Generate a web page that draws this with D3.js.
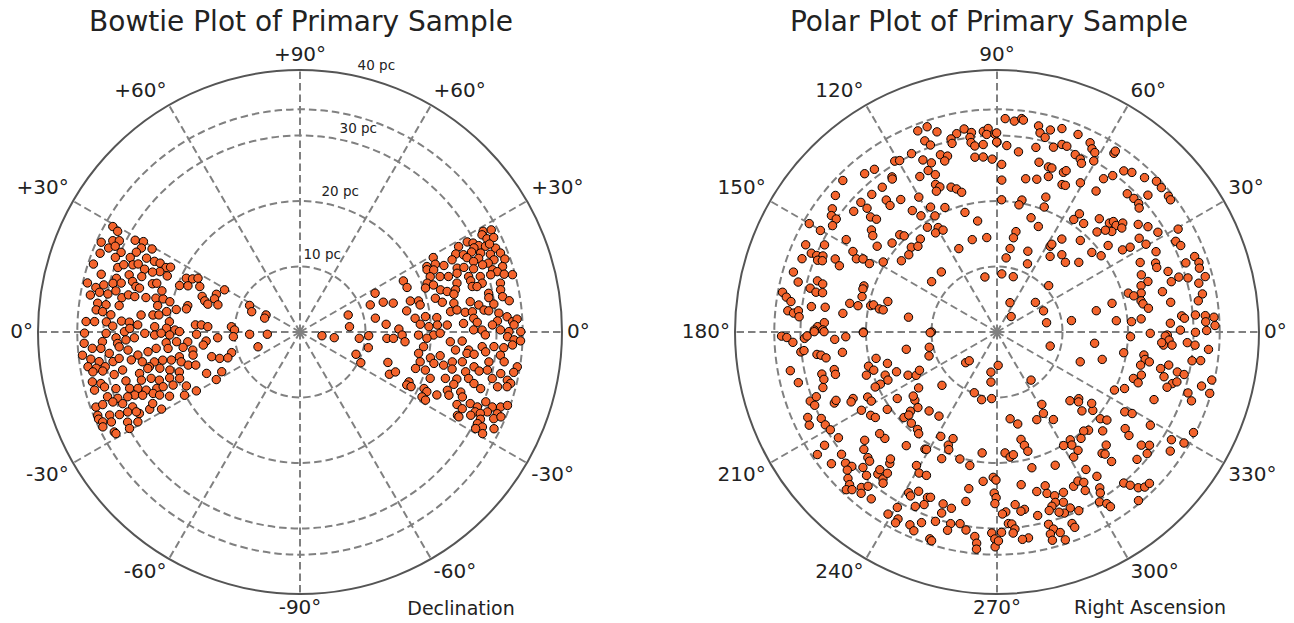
<!DOCTYPE html>
<meta charset="utf-8">
<style>

body { margin: 0; background: #fff; }

text {
  font-family: "DejaVu Sans", sans-serif;
  fill: #222;
}

.grid {
  fill: none;
  stroke: #808080;
  stroke-width: 2px;
  stroke-dasharray: 7.5, 4;
}

.edge {
  fill: none;
  stroke: #555;
  stroke-width: 2px;
}

.star {
  fill: #f4642c;
  stroke: #000;
  stroke-width: 1px;
}

</style>
<script src="https://cdn.jsdelivr.net/npm/d3@7"></script>

<body>
<script>

var width = 1294,
    height = 623;

// bowtie: [declination (deg), distance (pc)], stars on the left half of the sky
var bowtieWest = [[29.4,32.8],[28.9,31.8],[24.3,33.3],[26.0,31.8],[26.8,30.9],[29.1,28.8],[30,27.6],[23.7,31.9],[24.9,31.1],[27.9,27.4],[29.3,25.9],[26.0,27.8],[21.5,32.8],[24.0,29.9],[22.0,30.4],[25.7,26.0],[23.7,28.3],[18.2,33.2],[19.5,29.5],[20.9,28.8],[21.9,27.5],[22.8,26.8],[25.9,24.7],[26.2,23.8],[25.7,22.7],[26.6,22.1],[22.0,25.6],[23.3,23.3],[16.2,31.6],[16.3,29.2],[18.5,27.5],[22.1,24.3],[19.3,25.6],[22.9,22.0],[25.3,19.2],[26.3,18.3],[27.8,17.6],[13.0,33.3],[12.3,31.9],[13.5,30.8],[14.6,29.5],[15.3,28.3],[16.8,26.7],[15.5,26.0],[15.3,25.4],[18.1,23.7],[18.8,23.1],[21.1,19.7],[22.4,18.5],[24.4,16.8],[29.2,13.2],[10.0,32.5],[11.2,31.2],[11.2,29.9],[12.6,28.8],[10.9,27.7],[12.2,26.8],[12.1,25.8],[12.6,24.1],[13.2,22.6],[13.6,21.5],[16.6,22.0],[20.0,15.9],[24.3,14.0],[18.1,15.3],[21.2,14.0],[8.1,31.2],[8.0,29.9],[8.3,27.9],[10.5,22.1],[13.1,20.4],[13.2,17.6],[18.3,13.2],[16.8,14.7],[27.8,8.7],[22.8,8.0],[6.2,31.3],[5.9,30.3],[5.2,29.0],[6.1,24.4],[6.6,22.6],[6.9,21.7],[8.7,20.6],[10.3,19.2],[11.5,17.7],[26.6,5.8],[21.4,5.8],[2.8,32.7],[2.9,31.4],[3.0,29.6],[1.8,28.6],[3.5,27.3],[3.3,26.1],[2.5,24.8],[0.1,26.8],[1.2,26.0],[2.1,22.2],[4.5,20.0],[1.6,20.4],[0.9,19.1],[3.9,16.0],[4.1,15.1],[3.3,14.1],[4.4,10.5],[1.8,10.0],[-0.3,32.9],[-0.4,29.6],[-1.8,28.1],[-2.6,26.6],[-2.0,25.3],[-0.5,23.7],[-1.2,22.2],[-0.5,21.2],[-1.3,19.9],[0.2,18.4],[-1.3,15.8],[-4.0,12.6],[-4.0,10.2],[-2.6,7.7],[-4.0,5.0],[-4.6,20.5],[-4.5,18.9],[-5.0,17.2],[-5.5,14.4],[-3.0,33.0],[-2.8,30.2],[-3.6,27.9],[-6.1,33.4],[-4.5,31.8],[-4.7,30.5],[-6.4,29.3],[-4.7,27.7],[-6.0,26.4],[-8.1,25.0],[-7.4,23.4],[-6.5,22.1],[-7.1,20.3],[-7.5,18.0],[-9.6,16.6],[-7.7,14.9],[-19.4,6.8],[-16.8,10.9],[-11.6,18.8],[-12.2,16.7],[-15.6,14.0],[-18.2,12.9],[-19.7,11.7],[-7.4,32.2],[-8.4,31.0],[-9.0,28.9],[-8.3,27.9],[-9.4,26.1],[-10.7,24.5],[-11.6,22.7],[-11.6,21.4],[-12.3,20.1],[-14.1,18.7],[-9.3,32.8],[-10.1,31.6],[-10.1,30.2],[-13.0,23.6],[-14.5,22.1],[-16.5,17.8],[-17.6,16.7],[-10.9,32.2],[-11.2,30.7],[-12.9,29.1],[-12.1,27.7],[-14.5,25.3],[-13.5,23.9],[-16.3,20.7],[-18.3,19.4],[-23.9,15.6],[-26.9,13.4],[-29.6,14.7],[-16.9,25.3],[-17.3,23.8],[-18.9,22.7],[-19.4,21.1],[-21.1,19.7],[-15.7,27.6],[-13.5,32.6],[-14.5,31.4],[-15.8,32.6],[-15.7,31.0],[-17.1,29.4],[-18.3,27.4],[-19.2,26.2],[-20.7,25.1],[-21.5,23.5],[-21.8,22.5],[-22.7,21.0],[-25.4,19.2],[-20.9,27.0],[-22.7,24.3],[-24.2,23.5],[-26.2,22.2],[-28.7,20.1],[-29.6,18.2],[-18.6,31.0],[-20.0,29.6],[-20.6,28.1],[-21.9,25.9],[-20.2,33.2],[-20.2,32.1],[-20.5,30.5],[-22.0,29.2],[-24.1,28.0],[-26.9,27.5],[-27.2,25.8],[-25.9,25.0],[-29.1,24.2],[-22.4,33.4],[-23.6,31.7],[-24.6,30.3],[-24.9,29.0],[-26.0,27.8],[-23.4,33.5],[-24.5,33.1],[-25.5,31.9],[-27.6,29.7],[-29.0,28.3],[-25.7,33.4],[-28.3,32.2],[-28.9,32.1],[-29.5,29.9]];

// bowtie: stars on the right half of the sky
var bowtieEast = [[28.8,31.9],[28.1,33.1],[28.1,31.5],[26.5,31.9],[26.0,32.9],[28.3,29.0],[27.2,29.7],[25.8,30.3],[28.3,27.5],[24.8,31.2],[23.2,32.5],[24.9,31.9],[25.8,29.5],[26.6,26.6],[25.3,27.6],[25.0,28.9],[23.6,30.1],[22.2,31.4],[21.5,32.9],[29.2,23.3],[25.4,25.7],[24.0,27.9],[22.4,29.5],[20.4,31.6],[19.6,33.2],[22.1,28.6],[20.1,30.6],[27.3,21.8],[26.6,23.1],[24.8,24.2],[22.1,25.9],[21.5,26.9],[20.2,29.7],[17.9,32.5],[26.1,21.6],[24.9,22.5],[20.0,28.2],[20.5,25.6],[17.9,30.9],[17.0,31.5],[15.1,33.6],[23.0,21.6],[21.6,23.0],[20.5,24.2],[18.2,27.1],[17.1,28.8],[15.8,32.4],[16.7,30.4],[26.3,17.6],[21.0,20.8],[19.4,21.6],[17.3,25.1],[16.7,27.2],[15.0,28.8],[13.7,31.5],[22.6,17.7],[19.3,20.3],[16.7,22.4],[15.4,23.3],[15.2,24.6],[14.8,27.2],[14.4,27.9],[11.6,29.4],[11.9,31.3],[27.3,12.9],[21.1,11.5],[19.7,13.5],[17.2,14.9],[15.7,17.5],[14.7,18.7],[14.0,21.3],[13.8,24.2],[10.3,29.3],[9.9,31.4],[8.5,32.3],[12.7,18.8],[11.8,22.2],[10.6,23.9],[10.1,26.4],[8.2,29.9],[8.6,27.6],[11.2,16.6],[7.7,23.2],[8.0,24.2],[6.8,25.4],[6.7,26.5],[6.8,28.3],[6.4,29.0],[5.4,30.5],[4.2,31.7],[2.8,32.5],[3.4,33.2],[6.8,17.7],[7.0,19.3],[6.0,21.0],[4.5,26.6],[3.2,30.2],[19.4,7.8],[10.4,11.7],[6.1,7.6],[5.1,13.2],[1.7,15.1],[3.7,18.4],[2.4,19.7],[2.9,21.0],[2.7,22.5],[3.0,25.0],[3.1,27.1],[2.1,29.4],[0.6,27.8],[0.6,30.6],[0.1,31.9],[1.9,32.7],[-1.7,15.6],[-1.5,18.1],[-1.3,20.4],[-0.5,21.4],[0.7,26.5],[-0.9,28.3],[0.1,33.7],[-9.7,3.4],[-9.4,5.3],[-6.1,9.1],[-3.1,10.5],[-4.2,13.3],[-3.9,14.3],[-5.3,16.1],[-2.8,19.4],[-3.7,23.0],[-3.2,24.8],[-1.3,31.7],[-2.1,32.7],[-2.3,33.7],[-3.5,32.5],[-6.8,19.0],[-6.6,23.9],[-6.1,25.9],[-4.6,27.9],[-4.3,29.7],[-4.4,31.2],[-12.9,10.7],[-21.7,9.2],[-26.8,10.4],[-19.1,14.2],[-10.2,18.4],[-11.2,20.3],[-9.6,21.7],[-11.1,23.7],[-7.3,25.7],[-7.3,26.8],[-6.1,28.5],[-6.6,30.8],[-9.1,33.6],[-13.9,18.9],[-13.2,21.0],[-13.0,22.5],[-10.4,25.2],[-11.3,27.1],[-9.0,29.2],[-8.3,31.5],[-25.3,15.1],[-22.7,15.8],[-17.5,18.5],[-16.9,20.0],[-13.7,23.9],[-13.5,26.0],[-12.3,28.0],[-11.5,29.2],[-11.7,31.3],[-10.7,33.2],[-13.1,32.5],[-24.6,18.3],[-19.6,21.1],[-17.7,23.3],[-16.7,25.0],[-15.4,26.7],[-13.6,30.2],[-26.4,18.2],[-26.2,18.9],[-24.5,20.8],[-25.2,21.4],[-24.7,23.0],[-21.6,24.2],[-23.0,24.7],[-20.5,26.2],[-17.4,28.9],[-15.5,31.3],[-13.7,33.1],[-14.8,32.7],[-18.8,24.8],[-16.5,27.7],[-28.0,21.1],[-21.8,26.7],[-28.5,21.8],[-24.8,26.4],[-22.8,28.2],[-22.9,29.4],[-20.6,30.3],[-21.3,31.5],[-20.5,32.7],[-19.5,33.6],[-25.3,27.4],[-24.5,29.4],[-23.1,31.1],[-22.5,32.6],[-27.9,27.2],[-24.3,30.2],[-28.1,27.5],[-26.0,29.0],[-25.8,30.6],[-24.1,32.4],[-22.9,33.3],[-27.3,30.5],[-27.5,31.4],[-26.5,33.1],[-28.8,30.6],[-29.1,31.9]];

// polar: [right ascension (deg), distance (pc)]
var polarStars = [[111.5,33.0],[108.8,33.1],[106.7,31.9],[101.5,30.9],[99.2,31.4],[97.3,30.7],[93.9,30.7],[92.5,31.1],[90.6,30.2],[93,30.2],[110.7,31.2],[109.6,30.3],[103.4,30.3],[103.4,29.6],[97.9,30.0],[97.8,29.2],[96.8,28.6],[94.2,28.7],[90,29.0],[115.6,30.2],[107.7,28.4],[105.7,27.9],[107,27.3],[113.3,28.6],[111.2,27.7],[97.2,26.9],[94.5,26.8],[91.6,26.4],[120.9,30.4],[119.6,30.1],[129.9,31.5],[127,31.1],[124.1,28.6],[124.4,28.3],[116.4,26.5],[113.1,26.8],[111.4,25.8],[135.5,33.0],[128.4,28.2],[112.6,24.4],[111.5,23.8],[107.6,23.2],[105.8,22.7],[104.2,22.0],[113.3,23.4],[139.8,32.3],[132.3,28.4],[130,26.3],[130.2,25.3],[126,25.0],[120.1,23.8],[136.4,28.7],[136.4,27.4],[124.9,22.6],[123.2,21.2],[118,21.6],[112.7,20.6],[105,18.9],[143.2,31.4],[144.9,30.9],[144.9,30.0],[139.9,28.6],[137.7,26.1],[136.9,25.2],[118.1,20.1],[123.6,19.2],[119.4,18.3],[121.8,17.8],[117.9,17.6],[99.9,17.2],[150,33.1],[150.1,31.1],[147.1,29.9],[140.9,24.7],[142.2,24.0],[135,21.0],[134,20.4],[129.5,18.4],[135.3,18.4],[132.7,17.8],[114.6,14.0],[105,14.6],[96.2,14.5],[155.5,32.1],[153.2,29.5],[148.5,27.0],[144.4,22.5],[139.7,21.0],[157,30.8],[157,29.9],[156.4,29.0],[158.2,29.5],[157.8,28.8],[159.4,31.8],[155.7,27.1],[157.2,26.1],[150.8,25.2],[152.5,24.2],[151.4,23.3],[151.8,22.1],[148.4,20.4],[143.3,18.2],[138.8,17.9],[163.6,32.4],[165.9,31.3],[164.1,28.5],[164.6,27.6],[166.8,29.3],[167.6,28.3],[167.3,27.3],[160.9,21.5],[162.2,21.5],[132.8,12.5],[142.4,12.6],[102.4,8.6],[169.5,33.3],[170.6,32.6],[171.6,31.8],[174.2,32.1],[174.7,31.2],[173.9,30.5],[175.6,30.3],[172.2,28.6],[171.8,26.5],[173.1,23.7],[169,22.9],[169.3,21.6],[165.3,21.3],[168.2,19.7],[167.6,19.3],[168.9,18.3],[169,17.7],[164.4,17.3],[170.5,13.7],[178.3,27.4],[176.9,26.4],[179.3,26.6],[179.4,27.9],[180,20.4],[180,10.0],
  [87.8,32.6],[85.3,32.3],[83.4,32.8],[82.9,32.6],[90.1,30.4],[90.1,29.0],[87,28.5],[83.2,27.7],[88.4,25.6],[78.6,32.1],[77.8,31.1],[76.1,30.6],[75.2,31.9],[72.3,32.6],[67.7,32.6],[78.1,28.8],[73,29.5],[70.9,30.3],[69.4,30.3],[63.8,32.2],[62.6,31.5],[61.4,31.2],[66.2,29.6],[64.3,29.3],[63.4,28.8],[60.5,30.0],[56.8,32.6],[56.8,33.0],[76.1,26.7],[72.7,26.4],[71.5,26.4],[67.4,26.4],[66.8,26.8],[88.2,23.2],[79.4,23.8],[75.4,24.1],[71.7,25.0],[66.2,24.6],[65,24.7],[60.8,26.1],[54.9,26.3],[55.2,28.5],[53.5,29.7],[51.8,31.3],[49.8,31.9],[46.3,32.6],[43.4,33.5],[41.3,33.4],[42.2,31.1],[38.4,33.4],[37.3,33.3],[46.7,29.0],[44.3,29.2],[42.2,29.2],[41.1,28.8],[88,20.2],[79.3,20.5],[80.2,19.7],[70.1,21.9],[69.3,20.4],[73.4,18.2],[68.6,17.3],[55.7,20.8],[55.1,22.0],[51.4,21.2],[47.9,23.3],[44.1,23.9],[43.5,24.5],[41.8,24.4],[40.9,25.4],[39.8,24.8],[41.2,23.3],[43.2,22.7],[45,21.6],[37.3,27.1],[34.9,28.1],[31.8,28.9],[29.6,31.8],[79.3,15.6],[80.1,14.6],[81.1,12.9],[83,11.4],[69.1,13.2],[65.9,11.4],[85.3,8.9],[73.6,8.8],[41.9,10.6],[58.2,15.4],[58,15.8],[54.9,14.1],[55.1,17.3],[47.7,18.9],[50,15.4],[45.5,14.9],[40.4,16.4],[40,18.9],[36.2,19.7],[37.9,21.5],[33.2,22.9],[32.5,24.1],[33.4,26.0],[30.5,26.4],[26.8,27.2],[26.9,30.6],[25.2,31.0],[25.9,24.3],[23.5,26.4],[22,26.3],[21.6,23.7],[18.5,24.3],[19.5,27.7],[16.1,27.7],[16.8,29.0],[15.8,30.3],[20.1,30.7],[20.9,32.3],[19,32.6],[17.5,32.4],[14.9,32.9],[13.6,31.7],[17.8,23.1],[15.1,22.8],[16.5,20.9],[14.8,21.6],[12.2,22.5],[10.9,22.7],[8.9,23.4],[13.7,26.0],[9.7,26.9],[10.5,31.9],[8.8,31.1],[12.1,15.5],[14,18.1],[66.1,4.9],[37.6,7.4],[24.4,7.8],[47.5,3.2],[10.6,7.7],[8.7,11.5],[5.4,18.3],[4.4,20.6],[5.2,22.1],[5.0,28.3],[4.2,28.7],[4.9,30.4],[4.5,31.9],[3.9,33.2],[2.8,31.9],[1.7,33.3],[2.9,26.5],[0.6,28.0],[359.9,30.3],[0.4,32.0],[359.5,23.4],[359,26.0],
  [181.1,32.9],[181.5,32.1],[182.9,31.2],[181.9,29.4],[181.2,29.0],[179.9,27.9],[179.9,26.4],[182.6,24.8],[181.8,23.1],[180.3,20.4],[180.6,10.2],[185.8,30.1],[185.5,29.6],[187.1,27.7],[187.5,27.1],[188.6,26.4],[187.5,23.8],[192.3,18.9],[190.8,14.1],[192.7,10.6],[199.4,11.0],[190.6,32.1],[194.3,31.3],[193.5,27.5],[195.3,27.4],[193,25.5],[194.7,25.5],[198.3,21.0],[194.9,20.3],[197.2,19.7],[196,17.4],[201.6,16.5],[205.9,15.1],[208.2,14.0],[206.3,13.2],[201.1,18.3],[203.8,18.2],[204.1,19.5],[204.3,20.4],[197.7,27.9],[200.3,30.4],[199.7,29.3],[201.9,30.0],[203.6,27.1],[203,26.7],[204.8,24.2],[205.6,24.7],[206.7,22.1],[208.8,21.9],[213.7,18.3],[219.7,16.3],[217.4,16.1],[215.5,14.7],[210,23.9],[213.4,23.1],[215.1,22.7],[215.2,20.5],[222.6,19.3],[222.5,17.9],[223.3,18.5],[223.7,16.7],[229.3,15.9],[235.4,15.6],[204.3,31.7],[206.4,32.0],[206.2,29.9],[208.4,29.8],[210.4,29.5],[213.7,29.1],[226.8,19.1],[230.8,19.2],[232.4,19.6],[219.3,26.1],[221.4,27.1],[224.2,27.5],[225.4,27.7],[223.5,23.6],[220.9,23.7],[231.4,22.2],[238.4,21.0],[241.7,18.1],[246.7,18.8],[247.7,19.4],[247.6,17.6],[213.3,31.5],[214.3,33.2],[218.2,30.2],[218.5,32.3],[220.9,30.6],[222.8,30.2],[222.7,31.1],[225.3,29.1],[227.7,29.6],[230,28.3],[229.6,27.6],[232.2,28.4],[232.2,27.3],[230.8,25.9],[230,25.3],[233,28.9],[224.5,31.9],[226,32.4],[226.3,33.3],[227.4,32.7],[228.9,31.5],[230.1,30.7],[229.9,32.2],[233,31.9],[241.2,28.0],[242.2,28.3],[243.8,27.1],[247.2,27.4],[247.1,28.6],[244.9,29.4],[240.4,30.8],[239.1,32.4],[242.1,32.3],[242,33.0],[245.7,32.3],[247.3,32.9],[248.4,31.3],[252,30.4],[252.6,27.5],[255.5,27.8],[246.4,21.1],[253.7,20.2],[258.5,20.8],[263,18.6],[238.9,23.8],[239,20.9],[241.1,24.6],[243.8,24.4],[248.1,27.2],[253,28.9],[256.4,30.1],[259.1,29.8],[261.1,30.6],[259.6,26.3],[256,31.2],[252,33.2],[252.6,33.4],[263.8,31.4],[264.5,32.4],[264.6,33.3],[268.5,30.7],[269.4,31.6],[269.5,32.8],[268.5,22.2],[269.6,22.6],[264.7,22.9],[269,24.6],[269.7,25.3],[259.8,24.3],[249.5,9.9],[257.2,10.6],[265.4,10.2],[261.4,6.2],[263.1,7.7],[224.4,6.7],[226,6.1],[224.1,11.7],[272,5.1],
  [269.3,26.2],[345.2,8.4],[353.4,15.0],[340.3,13.5],[345.4,16.6],[358,20.4],[358.6,25.7],[357.3,26.3],[355.5,25.5],[356.3,25.2],[355.7,26.8],[356.8,29.1],[356.2,30.3],[355.3,32.4],[350.7,19.6],[351.1,22.7],[349.5,23.0],[347,22.5],[348.9,23.7],[347.4,25.6],[349.1,26.7],[345,26.4],[347.5,28.2],[347.2,29.3],[343.6,27.9],[344.5,28.5],[342,27.3],[341.2,22.0],[343.4,23.0],[340.2,22.9],[333.7,20.0],[336.1,21.3],[336.7,26.1],[345.2,32.3],[347.4,33.6],[351.6,30.1],[352,31.4],[342.3,30.6],[340.5,31.5],[343.9,33.8],[305.3,9.0],[301.8,13.0],[299.7,14.3],[294.4,14.7],[302.8,15.9],[316.7,15.3],[320.8,16.1],[319.4,16.4],[317.1,17.7],[320.7,18.9],[323,18.1],[320,20.6],[321.3,21.5],[328,23.0],[328.9,24.1],[328.7,27.4],[323,24.5],[321.9,25.6],[316.9,22.1],[313,20.5],[311.2,20.1],[308.3,20.7],[304.2,19.9],[303.5,20.7],[300.4,20.1],[304.4,21.9],[301.5,22.4],[314,24.0],[310.9,24.5],[311.5,24.9],[311.5,26.4],[321.9,28.0],[323.4,29.0],[321,29.5],[317.7,28.9],[328.3,31.3],[325.5,32.1],[329.3,33.2],[332.9,33.7],[278.6,13.4],[282.7,14.4],[282.6,16.8],[283.6,17.8],[284.5,18.8],[273.8,18.5],[276,19.2],[277.6,18.9],[284.4,21.4],[293.6,22.2],[302.9,25.0],[304.7,26.8],[299.1,27.7],[296.4,26.3],[298.5,25.9],[300,26.5],[303.4,28.5],[302.7,29.2],[310,30.1],[311,31.0],[312.2,32.1],[313.6,32.7],[315.2,32.8],[310,33.6],[279,23.6],[284,25.1],[287.4,24.6],[287.2,25.8],[289.4,26.5],[292.5,26.5],[291.3,27.9],[292.6,29.1],[294.6,30.0],[290.4,29.5],[288.9,27.5],[287.5,27.9],[286.3,28.4],[282.5,28.7],[289,29.1],[276,26.5],[278.8,27.4],[277.6,27.6],[272.8,27.5],[271.7,27.8],[273.4,29.3],[274.4,29.4],[275.2,30.2],[274.6,30.8],[271.3,30.6],[270.4,31.9],[278.7,31.8],[277,31.9],[285,30.4],[286,31.3],[284.8,31.9],[284.9,32.9],[287.5,32.1],[288.2,33.4],[291.4,31.4],[291.7,32.1],[301.1,30.3],[302.6,31.1],[303,31.8]];

var gridAngles = d3.range(0, 360, 30);
var ringValues = [10, 20, 30, 34];
var rMax = 40;
var pcLabels = [10, 20, 30, 40];

var bowtieTicks = ["0°", "+30°", "+60°", "+90°", "+60°", "+30°", "0°", "-30°", "-60°", "-90°", "-60°", "-30°"];
var polarTicks = ["0°", "30°", "60°", "90°", "120°", "150°", "180°", "210°", "240°", "270°", "300°", "330°"];

var svg = d3.select("body")
              .append("svg")
              .attr("width", width)
              .attr("height", height);

var r = d3.scaleLinear().domain([0, rMax]).range([0, 262]);
// degrees counter-clockwise from east -> d3.pointRadial angle
var theta = d3.scaleLinear().domain([0, 360]).range([Math.PI / 2, Math.PI / 2 - 2 * Math.PI]);

function pt(deg, dist) { return d3.pointRadial(theta(deg), r(dist)); }

function drawAxes(g, ticks) {
  g.selectAll(".ring")
    .data(ringValues)
    .enter().append("circle")
      .attr("class", "grid")
      .attr("r", function (d) { return r(d); });

  g.selectAll(".spoke")
    .data(gridAngles)
    .enter().append("line")
      .attr("class", "grid")
      .attr("x1", 0).attr("y1", 0)
      .attr("x2", function (d) { return pt(d, rMax)[0]; })
      .attr("y2", function (d) { return pt(d, rMax)[1]; });

  g.append("circle")
    .attr("class", "edge")
    .attr("r", r(rMax));

  // tick labels: anchored just outside the rim, aligned away from the centre
  gridAngles.forEach(function (a, i) {
    var rad = a * Math.PI / 180,
        c = Math.cos(rad), s = Math.sin(rad),
        p = d3.pointRadial(theta(a), r(rMax) + 5);
    var dy = s > 0.01 ? -4.2 : (s < -0.01 ? 15.2 : 5.5);
    g.append("text")
      .attr("font-size", 20)
      .attr("text-anchor", c > 0.01 ? "start" : (c < -0.01 ? "end" : "middle"))
      .attr("x", p[0])
      .attr("y", p[1] + dy)
      .text(ticks[i]);
  });
}

function drawStars(g, data, angleOf) {
  g.selectAll(".star")
    .data(data)
    .enter().append("circle")
      .attr("class", "star")
      .attr("r", 4.2)
      .attr("cx", function (d) { return pt(angleOf(d), d[1])[0]; })
      .attr("cy", function (d) { return pt(angleOf(d), d[1])[1]; });
}

// ---- bowtie plot
var left = svg.append("g").attr("transform", "translate(300,332)");
drawAxes(left, bowtieTicks);

left.selectAll(".pc")
  .data(pcLabels)
  .enter().append("text")
    .attr("font-size", 13.5)
    .attr("text-anchor", "middle")
    .attr("dy", "0.35em")
    .attr("x", function (d) { return d3.pointRadial(theta(74), r(d) + 15)[0]; })
    .attr("y", function (d) { return d3.pointRadial(theta(74), r(d) + 15)[1]; })
    .text(function (d) { return d + " pc"; });

var westG = left.append("g"), eastG = left.append("g");
drawStars(westG, bowtieWest, function (d) { return 180 - d[0]; });
drawStars(eastG, bowtieEast, function (d) { return d[0]; });

svg.append("text")
  .attr("x", 301).attr("y", 31)
  .attr("font-size", 28)
  .attr("text-anchor", "middle")
  .text("Bowtie Plot of Primary Sample");

svg.append("text")
  .attr("x", 461).attr("y", 615)
  .attr("font-size", 19)
  .attr("text-anchor", "middle")
  .text("Declination");

// ---- polar plot
var right = svg.append("g").attr("transform", "translate(997,332)");
drawAxes(right, polarTicks);
drawStars(right.append("g"), polarStars, function (d) { return d[0]; });

svg.append("text")
  .attr("x", 989).attr("y", 31)
  .attr("font-size", 28)
  .attr("text-anchor", "middle")
  .text("Polar Plot of Primary Sample");

svg.append("text")
  .attr("x", 1150).attr("y", 614)
  .attr("font-size", 19)
  .attr("text-anchor", "middle")
  .text("Right Ascension");

</script>
</body>
